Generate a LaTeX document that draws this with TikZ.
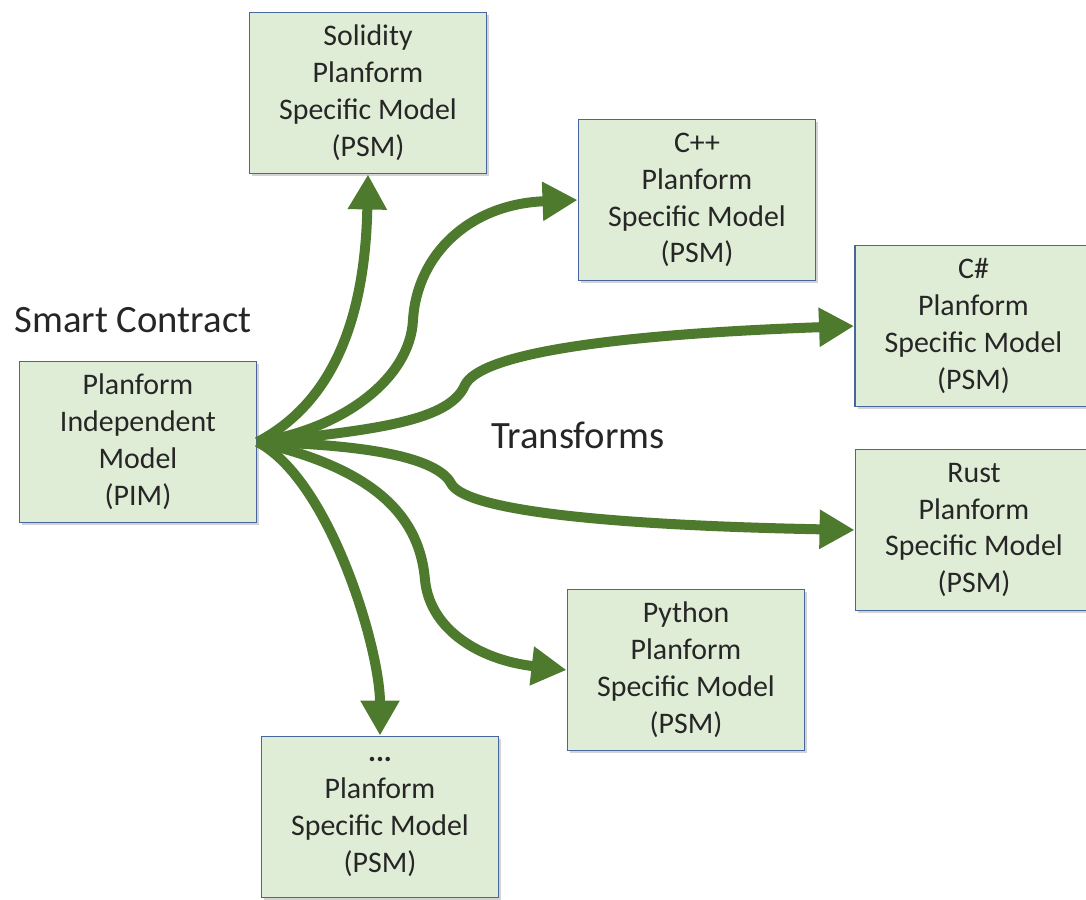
\documentclass[tikz,border=0pt]{standalone}
\usepackage{fontspec}
\setmainfont{Carlito}
\usepackage{tikz}
\usetikzlibrary{arrows.meta,positioning,shadows}
\definecolor{cgreen}{RGB}{78,122,46}
\definecolor{cbox}{RGB}{223,236,214}
\definecolor{cedge}{RGB}{72,102,158}
\definecolor{ctext}{RGB}{38,38,38}
\tikzset{
  model/.style={rectangle,fill=cbox,draw=cedge,line width=1.1pt,
    minimum width=4.74cm,minimum height=3.22cm,align=center,inner sep=2pt,
    text=ctext,font=\fontsize{17}{21}\selectfont,
    drop shadow={shadow xshift=1.5pt,shadow yshift=-1.5pt,opacity=0.35}},
  title/.style={text=ctext,font=\fontsize{22}{26}\selectfont},
  trans/.style={-{Triangle[length=0.7cm,width=0.74cm]},cgreen,line width=0.2cm}
}

\begin{document}
\begin{tikzpicture}
  \useasboundingbox (0,0) rectangle (21.72,17.98);
  % platform independent model on the left
  \node[model] (pim) at (2.76,9.14) {Planform\\Independent\\Model\\(PIM)};
  \node[title] (smart) at (2.66,11.58) {Smart Contract};
  \node[title] (transforms) at (11.56,9.28) {Transforms};
  % platform specific models
  \node[model] (sol) at (7.36,16.12) {Solidity\\Planform\\Specific Model\\(PSM)};
  \node[model] (cpp) at (13.94,13.98) {C++\\Planform\\Specific Model\\(PSM)};
  \node[model] (cs) at (19.47,11.46) {C\#\\Planform\\Specific Model\\(PSM)};
  \node[model] (rust) at (19.48,7.38) {Rust\\Planform\\Specific Model\\(PSM)};
  \node[model] (py) at (13.72,4.58) {Python\\Planform\\Specific Model\\(PSM)};
  \node[model] (dots) at (7.6,1.64) {\textbf{...}\\Planform\\Specific Model\\(PSM)};
  % transforms
  \draw[trans] (pim.east) .. controls (6.6,9.9) and (7.3,11.5) .. (sol.south);
  \draw[trans] (pim.east) .. controls (6.8,9.38) and (8.2,10.38) .. (8.26,11.58)
    .. controls (8.34,12.9) and (9.4,13.9) .. (cpp.west);
  \draw[trans] (pim.east) .. controls (7.6,9.38) and (9.0,9.58) .. (9.3,10.28)
    .. controls (9.6,10.88) and (12.0,11.28) .. (cs.west);
  \draw[trans] (pim.east) .. controls (7.6,9.08) and (8.8,8.78) .. (9.04,8.28)
    .. controls (9.4,7.78) and (12.0,7.48) .. (rust.west);
  \draw[trans] (pim.east) .. controls (7.6,8.58) and (8.4,7.58) .. (8.5,6.38)
    .. controls (8.6,5.38) and (9.6,4.78) .. (py.west);
  \draw[trans] (pim.east) .. controls (6.6,8.38) and (7.6,5.0) .. (dots.north);
\end{tikzpicture}
\end{document}
